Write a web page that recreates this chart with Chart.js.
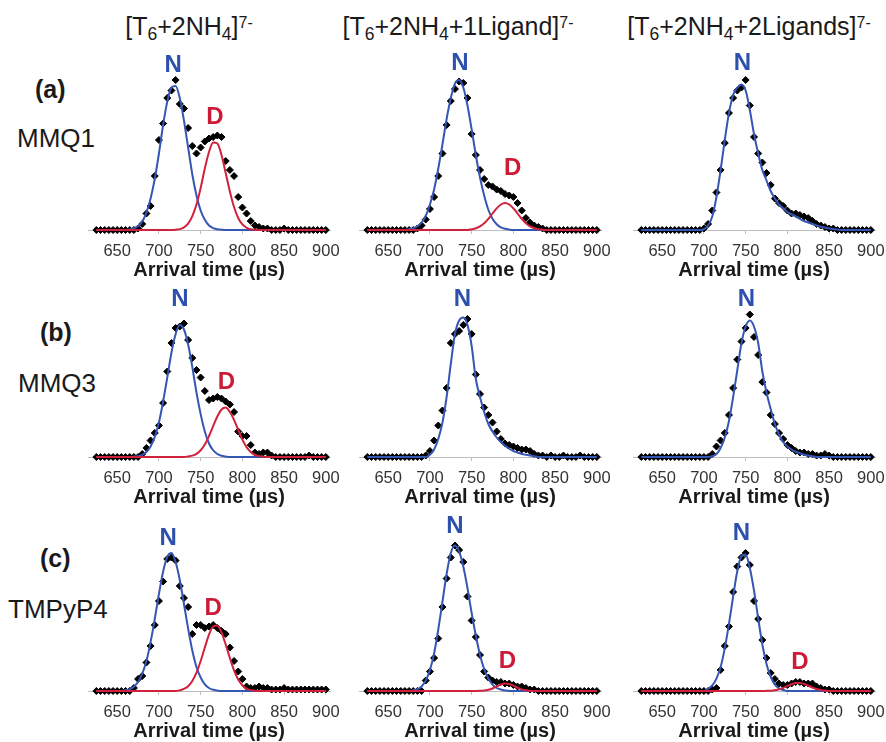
<!DOCTYPE html>
<html>
<head>
<meta charset="utf-8">
<script src="https://cdn.jsdelivr.net/npm/chart.js@4.4.1/dist/chart.umd.min.js"></script>
<style>
html, body { margin:0; padding:0; width:886px; height:742px; overflow:hidden; background:#fff; }
body { position:relative; font-family:"Liberation Sans", Arial, sans-serif; color:#1a1a1a; }
canvas { position:absolute; }
.ttl { position:absolute; top:14px; font-size:25px; line-height:25px; white-space:nowrap; transform:translateX(-50%); }
.ttl sub { font-size:0.7em; position:relative; top:0.3em; vertical-align:baseline; }
.ttl sup { font-size:0.64em; position:relative; top:-0.45em; vertical-align:baseline; }
.lab { position:absolute; font-size:25px; line-height:25px; font-weight:bold; }
.cmp { position:absolute; font-size:26px; line-height:26px; }
</style>
</head>
<body>
<div class="ttl" style="left:189px">[T<sub>6</sub>+2NH<sub>4</sub>]<sup>7-</sup></div>
<div class="ttl" style="left:458px">[T<sub>6</sub>+2NH<sub>4</sub>+1Ligand]<sup>7-</sup></div>
<div class="ttl" style="left:749px">[T<sub>6</sub>+2NH<sub>4</sub>+2Ligands]<sup>7-</sup></div>

<div class="lab" style="left:35px;top:77px">(a)</div>
<div class="cmp" style="left:17px;top:125px">MMQ1</div>
<div class="lab" style="left:40px;top:320px">(b)</div>
<div class="cmp" style="left:18px;top:370px">MMQ3</div>
<div class="lab" style="left:40px;top:546px">(c)</div>
<div class="cmp" style="left:8px;top:596px">TMPyP4</div>

<script>
//Data
    //Common arrival time grid (µs) and axis ticks
        var arrival = [625,630,635,640,645,650,655,660,665,670,
            675,680,685,690,695,700,705,710,715,720,
            725,730,735,740,745,750,755,760,765,770,
            775,780,785,790,795,800,805,810,815,820,
            825,830,835,840,845,850,855,860,865,870,
            875,880,885,890,895,900];
        var xTicks = [650, 700, 750, 800, 850, 900];
    //(a) MMQ1
        var a1Dots = [0,0,0,0,0,0,0,0,0,0,
            1,4,11,16,36,60,71,88,93,100,
            84,81,68,56,51,55,59,61,62,63,
            62,46,40,36,22,15,11,6,3,2,
            1,1,0,0,0,1,0,0,0,0,
            0,0,0,0,0,0];
        var a1N = [0,0,0,0,0,0,0,0,0.4,1.1,
            2.6,5.7,11.6,21,34,51,70,85.6,95,96,
            88,73,55,37,23,13,6.8,3,1.3,0.5,
            0.2,0,0,0,0,0,0,0,0,0,
            0,0,0,0,0,0,0,0,0,0,
            0,0,0,0,0,0];
        var a1D = [0,0,0,0,0,0,0,0,0,0,
            0,0,0,0,0,0,0,0,0,0.2,
            0.6,1.8,4.3,9.2,17,28,41,52,58.4,57.7,
            50,38,25.7,15.3,8,3.7,1.5,0.5,0.2,0,
            0,0,0,0,0,0,0,0,0,0,
            0,0,0,0,0,0];
        var a2Dots = [0,0,0,0,0,0,0,0,0,0,
            0,0,1,3,7,14,22,36,51,70,
            86,94,99,98,88,64,50,40,34,30,
            29,27,26,24,23,22,18,13,8,5,
            3,2,1,0,0,0,0,0,0,0,
            0,0,0,0,0,0];
        var a2N = [0,0,0,0,0,0,0,0,0,0,
            0.5,1.1,2.5,5,9.5,17,27,41,57,74,
            88,97.6,100,95,83,67,50,35,23,13.5,
            7.5,3.8,1.8,0.8,0.3,0,0,0,0,0,
            0,0,0,0,0,0,0,0,0,0,
            0,0,0,0,0,0];
        var a2D = [0,0,0,0,0,0,0,0,0,0,
            0,0,0,0,0,0,0,0,0,0,
            0,0,0,0,0,0.5,1.2,2.4,4.5,7.4,
            11,14.4,17,18,17,14.4,11,7.4,4.5,2.4,
            1.2,0.5,0.2,0,0,0,0,0,0,0,
            0,0,0,0,0,0];
        var a3Dots = [0,0,0,0,0,0,0,0,0,0,
            0,0,0,0,0,1,4,13,25,40,
            58,78,88,93,95,100,83,62,51,45,
            38,30,21,18,16,13,11,11,10,9,
            8,6,4,3,2,1,1,0,0,0,
            0,0,0,0,0,0];
        var a3N = [0,0,0,0,0,0,0,0,0,0,
            0,0,0,0,0,0.5,3,9,22,40,
            60,78,90,95,97,93,80,64,51,40,
            33,26,21,17,14.5,12,10.5,9,7.5,6,
            5,4,3,2.2,1.6,1,0.6,0.3,0,0,
            0,0,0,0,0,0];
    //(b) MMQ3
        var b1Dots = [0,0,0,0,0,0,0,0,0,0,
            0,2,6,11,16,21,36,57,76,86,
            87,89,78,66,58,53,44,38,39,40,
            39,37,35,30,17,14,14,8,3,2,
            3,3,1,0,0,0,0,0,0,0,
            0,1,0,0,0,0];
        var b1N = [0,0,0,0,0,0,0,0,0,0.2,
            0.5,1.4,3.3,7,13.4,23,37,53,69.5,82,
            88,85,75,60,43,28.6,17,9,4.5,2,
            0.8,0.3,0,0,0,0,0,0,0,0,
            0,0,0,0,0,0,0,0,0,0,
            0,0,0,0,0,0];
        var b1D = [0,0,0,0,0,0,0,0,0,0,
            0,0,0,0,0,0,0,0,0,0,
            0,0,0.4,0.9,2.1,4.5,8.3,14,20.6,27,
            31.7,33,30,24.7,18,11.6,6.6,3.4,1.5,0.6,
            0.2,0,0,0,0,0,0,0,0,0,
            0,0,0,0,0,0];
        var b2Dots = [0,0,0,0,0,0,0,0,0,0,
            0,0,0,0,1,4,11,21,31,46,
            76,82,84,88,92,82,55,42,33,28,
            23,17,12,9,8,7,6,5,5,4,
            2,1,1,0,1,0,0,1,0,0,
            0,1,0,0,0,0];
        var b2N = [0,0,0,0,0,0,0,0,0,0,
            0,0,0,0,0,1.5,5,12,23,40,
            62,82,91,93,88,74,52,40,30,22,
            17,13,10,7.5,5.5,4,3,2,1.5,1,
            0.5,0,0,0,0,0,0,0,0,0,
            0,0,0,0,0,0];
        var b3Dots = [0,0,0,0,0,0,0,0,0,0,
            0,0,0,0,0,0,0,2,7,11,
            16,28,46,65,77,86,95,80,68,50,
            43,28,22,16,12,8,6,4,3,3,
            2,2,1,1,2,1,0,0,0,0,
            0,0,0,0,0,0];
        var b3N = [0,0,0,0,0,0,0,0,0,0,
            0,0,0,0,0,0,0,0.5,2,6,
            13,24,40,58,76,87,91,87,76,57,
            43,32,22,15,10,7,5,3.5,2.5,1.5,
            1,0.5,0,0,0,0,0,0,0,0,
            0,0,0,0,0,0];
    //(c) TMPyP4
        var c1Dots = [0,0,0,0,0,0,0,0,0,2,
            8,10,19,30,44,60,73,88,89,87,
            70,62,56,38,44,44,42,43,44,42,
            40,38,29,20,13,8,3,2,2,3,
            2,2,1,1,1,2,1,1,1,1,
            1,1,1,1,1,1];
        var c1N = [0,0,0,0,0,0,0,0.5,1.2,2.9,
            6,11.5,20,32.6,48,64.7,79.5,89.4,92,86,
            74,58,41.6,27,16,9,4.4,2,0.8,0.3,
            0,0,0,0,0,0,0,0,0,0,
            0,0,0,0,0,0,0,0,0,0,
            0,0,0,0,0,0];
        var c1D = [0,0,0,0,0,0,0,0,0,0,
            0,0,0,0,0,0,0,0,0,0,
            0.5,1.4,3.2,6.7,12.2,20,29,37.6,43,43.6,
            39,31,22,13.7,7.6,3.8,1.6,0.6,0.2,0,
            0,0,0,0,0,0,0,0,0,0,
            0,0,0,0,0,0];
        var c2Dots = [0,0,0,0,0,0,0,0,0,0,
            0,0,0,0,7,13,22,35,56,75,
            89,97,94,86,63,47,36,24,13,9,
            7,6,6,5,5,4,3,3,2,1,
            1,0,0,0,0,0,0,0,0,0,
            0,0,0,0,0,0];
        var c2N = [0,0,0,0,0,0,0,0,0,0,
            0,0.4,1.2,3,6.9,14,25,41,59.5,78,
            92,97,93,83,68.6,52,37,24,14.6,8.3,
            4.3,2,1,0.4,0,0,0,0,0,0,
            0,0,0,0,0,0,0,0,0,0,
            0,0,0,0,0,0];
        var c2D = [0,0,0,0,0,0,0,0,0,0,
            0,0,0,0,0,0,0,0,0,0,
            0,0,0,0,0,0,0,0.1,0.3,0.8,
            1.7,3,4.3,5,4.7,3.6,2.2,1.1,0.5,0.2,
            0,0,0,0,0,0,0,0,0,0,
            0,0,0,0,0,0];
        var c3Dots = [0,0,0,0,0,0,0,0,0,0,
            0,0,0,0,0,0,0,1,2,14,
            30,43,66,83,89,92,84,60,48,34,
            22,12,8,5,4,4,5,6,6,5,
            5,5,3,2,1,1,0,0,0,0,
            0,0,0,0,0,0];
        var c3N = [0,0,0,0,0,0,0,0,0,0,
            0,0,0,0,0,0,1.5,3.7,8.2,16,
            28.6,44.8,63,80,90,91,82,67,48.5,31,
            18,9.5,4.3,1.8,0.7,0,0,0,0,0,
            0,0,0,0,0,0,0,0,0,0,
            0,0,0,0,0,0];
        var c3D = [0,0,0,0,0,0,0,0,0,0,
            0,0,0,0,0,0,0,0,0,0,
            0,0,0,0,0,0,0,0,0,0,
            0.1,0.2,0.5,1.2,2.1,3.3,4.5,5.4,5.4,4.7,
            3.6,2.3,1.3,0.6,0.3,0,0,0,0,0,
            0,0,0,0,0,0];
    //Peak tags "N" / "D" anchors [time, intensity]
        var nTags = [[717,110],[736,111],[746,111],[725,105],[739,105],[751,105],[711,102],[730,110],[745,105]];
        var dTags = [[767,75],[799,41],null,[781,50],null,null,[765,55],[793,20],[815,19]];

//Layout
    var colLeft = [68, 339, 613];
    var rowTop = [45, 272, 506];
    var blue = '#3656b4', red = '#d2213c';
    var fontFam = '"Liberation Sans", Arial, sans-serif';
    Chart.defaults.font.family = fontFam;

//Functions
    //Turn a value list into {x,y} points on the arrival grid
        function pts(vals){
            return arrival.map(function(x, i){ return {x: x, y: vals[i]}; });
        }
    //Plugin that writes the N and D tags
        function tagPlugin(n, d){
            return {
                id: 'peakTags',
                afterDatasetsDraw: function(chart){
                    var ctx = chart.ctx, sx = chart.scales.x, sy = chart.scales.y;
                    ctx.save();
                    ctx.font = 'bold 24px ' + fontFam;
                    ctx.textAlign = 'center';
                    ctx.textBaseline = 'middle';
                    ctx.fillStyle = '#2e50ad';
                    ctx.fillText('N', sx.getPixelForValue(n[0]), sy.getPixelForValue(n[1]));
                    if(d){
                        ctx.fillStyle = '#cc1b36';
                        ctx.fillText('D', sx.getPixelForValue(d[0]), sy.getPixelForValue(d[1]));
                    }
                    ctx.restore();
                }
            };
        }
    //One panel
        function panel(k, dots, fitN, fitD){
            var c = document.createElement('canvas');
            c.width = 282; c.height = 237;
            c.style.left = colLeft[k % 3] + 'px';
            c.style.top = rowTop[Math.floor(k / 3)] + 'px';
            document.body.appendChild(c);
            var sets = [{
                data: pts(dots), showLine: false, order: 3, clip: false,
                pointStyle: 'rectRot', pointRadius: 3.5, borderWidth: 1,
                backgroundColor: '#000', borderColor: '#000'
            }, {
                data: pts(fitN), order: 2, clip: false, pointRadius: 0,
                borderColor: blue, borderWidth: 2, cubicInterpolationMode: 'monotone'
            }];
            if(fitD) sets.push({
                data: pts(fitD), order: 1, clip: false, pointRadius: 0,
                borderColor: red, borderWidth: 2, cubicInterpolationMode: 'monotone'
            });
            new Chart(c, {
                type: 'line',
                data: {datasets: sets},
                plugins: [tagPlugin(nTags[k], dTags[k])],
                options: {
                    responsive: false, animation: false, events: [],
                    layout: {padding: {left: 20, right: 20, top: 20, bottom: 0}},
                    plugins: {legend: {display: false}, tooltip: {enabled: false}},
                    scales: {
                        x: {
                            type: 'linear', min: 615, max: 905,
                            afterBuildTicks: function(s){ s.ticks = xTicks.map(function(v){ return {value: v}; }); },
                            afterFit: function(s){ s.height = 52; },
                            grid: {drawOnChartArea: false, tickLength: 4, color: '#c0c0c0'},
                            border: {color: '#bdbdbd', width: 1},
                            ticks: {font: {size: 16.5}, color: '#333', padding: 8, maxRotation: 0, autoSkip: false},
                            title: {display: true, text: 'Arrival time (µs)', color: '#1a1a1a',
                                font: {size: 20, weight: 'bold'}, padding: {top: 0, bottom: 0}}
                        },
                        y: {display: false, min: 0, max: 110}
                    }
                }
            });
        }

//Draw the 3x3 grid
    panel(0, a1Dots, a1N, a1D);
    panel(1, a2Dots, a2N, a2D);
    panel(2, a3Dots, a3N, null);
    panel(3, b1Dots, b1N, b1D);
    panel(4, b2Dots, b2N, null);
    panel(5, b3Dots, b3N, null);
    panel(6, c1Dots, c1N, c1D);
    panel(7, c2Dots, c2N, c2D);
    panel(8, c3Dots, c3N, c3D);
</script>
</body>
</html>
